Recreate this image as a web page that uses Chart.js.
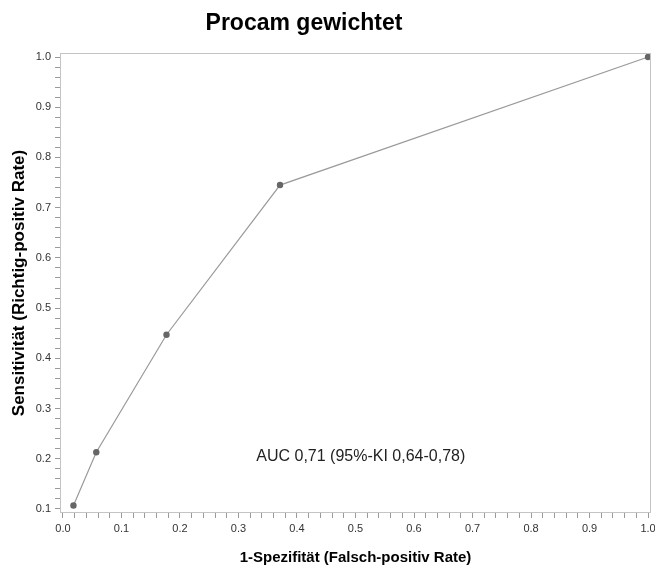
<!DOCTYPE html>
<html>
<head>
<meta charset="utf-8">
<script src="https://cdn.jsdelivr.net/npm/chart.js@4"></script>
<style>
html,body{margin:0;padding:0;background:#fff;}
#wrap{width:655px;height:567px;position:relative;}
</style>
</head>
<body>
<div id="wrap"><canvas id="c" width="655" height="567"></canvas></div>
<script>
const fprValues = [0.018, 0.057, 0.177, 0.371, 1.0];
const sensValues = [0.107, 0.213, 0.447, 0.745, 1.0];
const xTickValues = [0.0,0.1,0.2,0.3,0.4,0.5,0.6,0.7,0.8,0.9,1.0];
const yTickValues = [0.1,0.2,0.3,0.4,0.5,0.6,0.7,0.8,0.9,1.0];
const chartTitle = 'Procam gewichtet';
const xTitle = '1-Spezifität (Falsch-positiv Rate)';
const yTitle = 'Sensitivität (Richtig-positiv Rate)';
const aucText = 'AUC 0,71 (95%-KI 0,64-0,78)';

const points = fprValues.map((x,i)=>({x:x,y:sensValues[i]}));

function withMinor(majors){
  const out=[];
  for(let i=0;i<majors.length;i++){
    out.push({value:majors[i], major:true});
    if(i<majors.length-1){
      for(let k=1;k<5;k++){
        out.push({value:+(majors[i]+(majors[i+1]-majors[i])*k/5).toFixed(4), major:false});
      }
    }
  }
  return out;
}

const tickFont = {family:'"Liberation Sans Narrow", "Liberation Sans", Arial, sans-serif', size:11};

const framePlugin = {
  id:'frame',
  afterDraw(chart){
    const ctx=chart.ctx, a=chart.chartArea;
    ctx.save();
    ctx.strokeStyle='#c4c4c4';
    ctx.lineWidth=1;
    ctx.strokeRect(Math.round(a.left)+0.5, Math.round(a.top)+0.5, Math.round(a.right-a.left)-1, Math.round(a.bottom-a.top)-1);
    // title
    ctx.fillStyle='#000';
    ctx.font='bold 23px "Liberation Sans", Arial, sans-serif';
    ctx.textAlign='center';
    ctx.textBaseline='alphabetic';
    ctx.fillText(chartTitle, 304, 30);
    // AUC annotation
    const xs=chart.scales.x, ys=chart.scales.y;
    ctx.font='16px "Liberation Sans", Arial, sans-serif';
    ctx.fillStyle='#222';
    ctx.textBaseline='middle';
    ctx.fillText(aucText, xs.getPixelForValue(0.509), ys.getPixelForValue(0.205));
    ctx.restore();
  }
};

new Chart(document.getElementById('c'), {
  type:'scatter',
  data:{datasets:[{
    data:points,
    showLine:true,
    borderColor:'#9a9a9a',
    borderWidth:1.2,
    backgroundColor:'#666666',
    pointBackgroundColor:'#666666',
    pointBorderColor:'#666666',
    pointRadius:3.2,
    pointBorderWidth:0
  }]},
  options:{
    responsive:false,
    animation:false,
    layout:{padding:{top:53,right:2,left:0,bottom:0}},
    plugins:{legend:{display:false},tooltip:{enabled:false},title:{display:false}},
    scales:{
      x:{
        type:'linear',
        min:-0.005, max:1.005,
        afterBuildTicks(s){ s.ticks = withMinor(xTickValues); },
        afterFit(s){ s.height = 54; s.paddingLeft = 0; s.paddingRight = 0; },
        border:{display:false},
        grid:{display:true, drawOnChartArea:false, drawTicks:true, tickLength:5, color:'#9a9a9a'},
        ticks:{
          autoSkip:false, maxRotation:0, padding:4, color:'#333', font:tickFont,
          callback(v, i, t){ return t[i].major ? (+v).toFixed(1) : ''; }
        },
        title:{display:true, text:xTitle, color:'#000', font:{family:'"Liberation Sans", Arial, sans-serif', size:15, weight:'bold'}, padding:{top:4,bottom:0}}
      },
      y:{
        type:'linear',
        min:0.092, max:1.008,
        afterBuildTicks(s){ s.ticks = withMinor(yTickValues); },
        afterFit(s){ s.width = 60; s.paddingTop = 0; s.paddingBottom = 0; },
        border:{display:false},
        grid:{display:true, drawOnChartArea:false, drawTicks:true, tickLength:5, color:'#9a9a9a'},
        ticks:{
          autoSkip:false, padding:4, color:'#333', font:tickFont,
          callback(v, i, t){ return t[i].major ? (+v).toFixed(1) : ''; }
        },
        title:{display:true, text:yTitle, color:'#000', font:{family:'"Liberation Sans", Arial, sans-serif', size:17, weight:'bold'}, padding:{top:9,bottom:4}}
      }
    }
  },
  plugins:[framePlugin]
});
</script>
</body>
</html>
